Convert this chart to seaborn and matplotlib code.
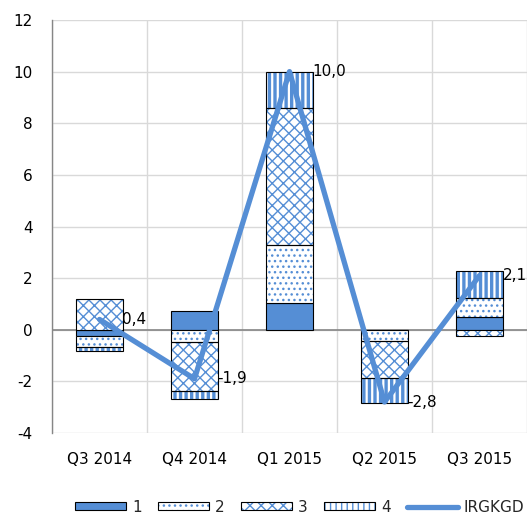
import numpy as np
import pandas as pd
import matplotlib
matplotlib.use("Agg")
import matplotlib.pyplot as plt
import seaborn as sns
from matplotlib.patches import Patch
from matplotlib.lines import Line2D

quarters = ["Q3 2014", "Q4 2014", "Q1 2015", "Q2 2015", "Q3 2015"]
s1 = [-0.25, 0.73, 1.03, 0.00, 0.48]
s2 = [-0.40, -0.47, 2.27, -0.43, 0.74]
s3 = [1.20, -1.90, 5.30, -1.42, -0.23]
s4 = [-0.17, -0.30, 1.40, -1.00, 1.07]
irgkgd = [0.4, -1.9, 10.0, -2.8, 2.1]
series_names = ["1", "2", "3", "4"]
line_name = "IRGKGD"
y_ticks = [-4, -2, 0, 2, 4, 6, 8, 10, 12]

BLUE = "#558ED5"
hatches = [None, "...", "xxx", "|||"]
hatch_lw = [1.0, 1.0, 1.0, 2.4]

sns.set_theme(style="white")
plt.rcParams["font.family"] = ["DejaVu Sans"]
plt.rcParams["axes.unicode_minus"] = False

fig = plt.figure(figsize=(5.31, 5.17), dpi=100)
ax = fig.add_axes([52 / 531, 1 - 433 / 517, 475 / 531, 413 / 517])

series = [s1, s2, s3, s4]
pos_cum = np.zeros(len(quarters))
neg_cum = np.zeros(len(quarters))
for name, vals, h, hlw in zip(series_names, series, hatches, hatch_lw):
    vals = np.asarray(vals, dtype=float)
    bottoms = np.where(vals >= 0, pos_cum, neg_cum)
    df = pd.DataFrame({"q": quarters, "v": vals})
    plt.rcParams["hatch.linewidth"] = hlw
    n_before = len(ax.patches)
    if h is None:
        sns.barplot(data=df, x="q", y="v", ax=ax, width=0.5, errorbar=None,
                    color=BLUE, saturation=1,
                    bottom=bottoms, facecolor=BLUE, edgecolor="black",
                    linewidth=0.8, zorder=2)
    else:
        sns.barplot(data=df, x="q", y="v", ax=ax, width=0.5, errorbar=None,
                    color=BLUE, saturation=1,
                    bottom=bottoms, facecolor="white", edgecolor=BLUE,
                    linewidth=0, hatch=h, zorder=2)
        for p in ax.patches[n_before:]:
            if hasattr(p, "set_hatch_linewidth"):
                p.set_hatch_linewidth(hlw)
        sns.barplot(data=df, x="q", y="v", ax=ax, width=0.5, errorbar=None,
                    color=BLUE, saturation=1,
                    bottom=bottoms, fill=False, edgecolor="black",
                    linewidth=0.8, zorder=3)
    pos_cum = pos_cum + np.where(vals >= 0, vals, 0)
    neg_cum = neg_cum + np.where(vals < 0, vals, 0)

xpos = np.arange(len(quarters))
sns.lineplot(x=xpos, y=irgkgd, ax=ax, color=BLUE, linewidth=3.8, zorder=5,
             legend=False)

for x, v in zip(xpos, irgkgd):
    ax.annotate(f"{v:.1f}".replace(".", ","), (x, v), xytext=(16.5, 0),
                textcoords="offset points", ha="left", va="center",
                fontsize=11, color="black", zorder=6)

ax.set_xlim(-0.5, len(quarters) - 0.5)
ax.set_ylim(min(y_ticks), max(y_ticks))
ax.set_yticks(y_ticks)
ax.set_yticklabels([str(t) for t in y_ticks])
ax.set_xticks(xpos)
ax.set_xticklabels(quarters)
ax.set_xticks(np.arange(len(quarters) + 1) - 0.5, minor=True)
ax.set_xlabel("")
ax.set_ylabel("")
ax.tick_params(axis="both", which="both", length=0, labelsize=11, colors="black")
ax.tick_params(axis="y", pad=14)
ax.tick_params(axis="x", pad=14)

ax.grid(False)
ax.yaxis.grid(True, color="#D9D9D9", linewidth=1, zorder=0)
ax.xaxis.grid(True, which="minor", color="#D9D9D9", linewidth=1, zorder=0)
ax.set_axisbelow(True)
for s in ["top", "right", "bottom"]:
    ax.spines[s].set_visible(False)
ax.spines["left"].set_color("#868686")
ax.spines["left"].set_linewidth(1.0)
ax.axhline(0, color="#868686", linewidth=1.2, zorder=1.5)

handles = []
for h, hlw in zip(hatches, hatch_lw):
    plt.rcParams["hatch.linewidth"] = hlw
    if h is None:
        handles.append(Patch(facecolor=BLUE, edgecolor="black", linewidth=0.8))
    else:
        hp = Patch(facecolor="white", edgecolor=BLUE, linewidth=0, hatch=h)
        if hasattr(hp, "set_hatch_linewidth"):
            hp.set_hatch_linewidth(hlw)
        handles.append((hp, Patch(fill=False, edgecolor="black", linewidth=0.8)))
plt.rcParams["hatch.linewidth"] = 1.0
handles.append(Line2D([0], [0], color=BLUE, linewidth=3.8))
labels = series_names + [line_name]
leg = fig.legend(handles, labels, loc="center", bbox_to_anchor=(0.565, 1 - 507 / 517),
                 ncol=5, frameon=False, fontsize=11, handlelength=3.3,
                 handleheight=0.4, handletextpad=0.4, columnspacing=1.1)

fig.savefig("out.png", dpi=100)
